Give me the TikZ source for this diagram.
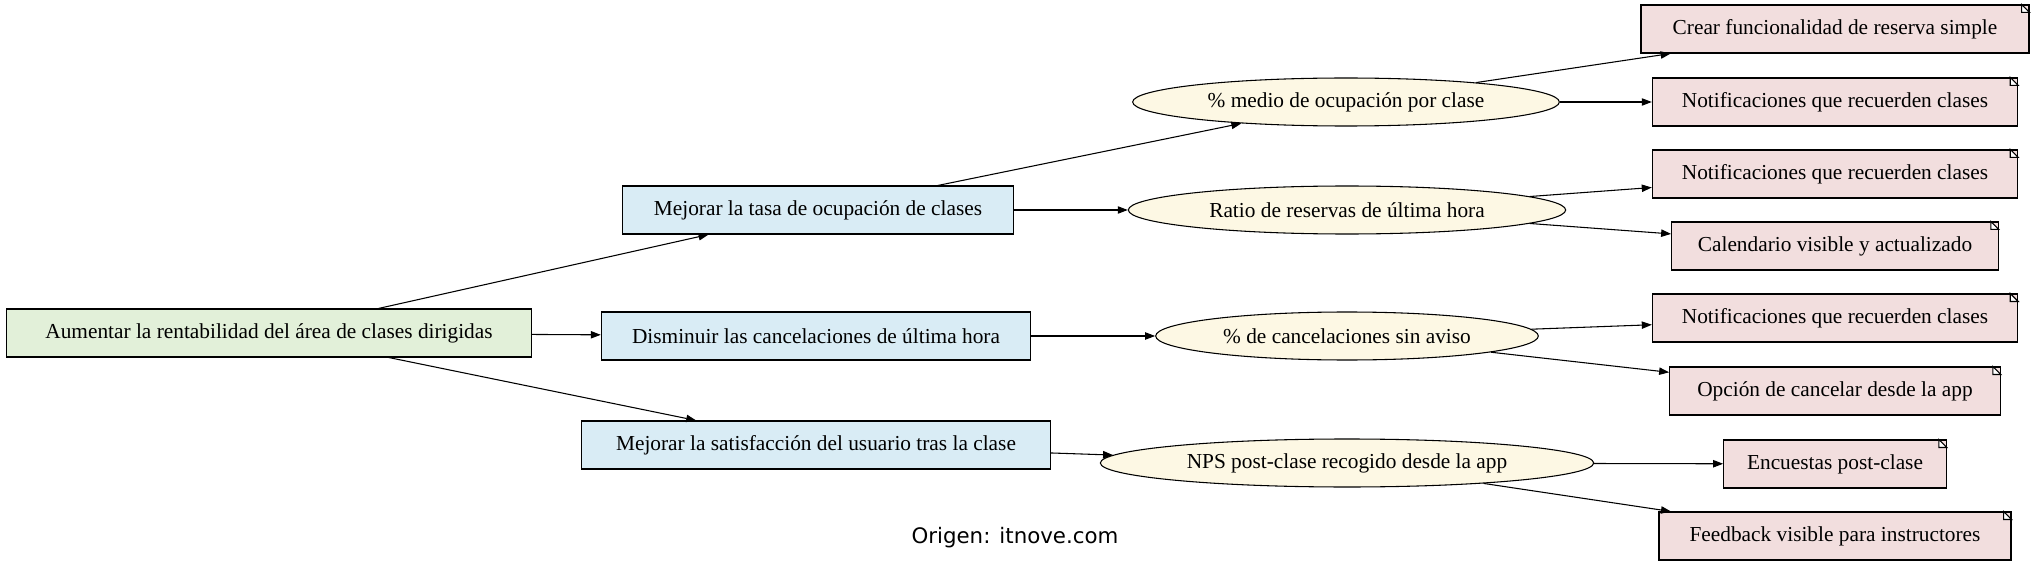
\documentclass[tikz,border=0pt]{standalone}
\usepackage{fontspec}
\setmainfont{Liberation Serif}
\newfontfamily\captionfont{DejaVu Sans}
\usetikzlibrary{shapes.geometric, arrows.meta}
\definecolor{goalgreen}{HTML}{E2F0D9}
\definecolor{objblue}{HTML}{D9ECF5}
\definecolor{kpicream}{HTML}{FDF8E4}
\definecolor{actionpink}{HTML}{F2DEDE}
\tikzset{
    base/.style={draw, thick, inner sep=0pt, minimum height=36pt,
        font=\fontsize{16}{19}\selectfont},
    goal/.style={base, rectangle, fill=goalgreen},
    objective/.style={base, rectangle, fill=objblue},
    kpi/.style={base, ellipse, fill=kpicream},
    action/.style={base, rectangle, fill=actionpink},
    link/.style={thick, -{Triangle[length=7.5pt, width=5.5pt]}},
}
\begin{document}
\begin{tikzpicture}[x=0.75pt, y=-0.75pt]
    \useasboundingbox (0, 0) rectangle (2032, 563);
    % goal and objectives
    \node[goal, minimum width=394pt] (root) at (269, 333) {Aumentar la rentabilidad del área de clases dirigidas};
    \node[objective, minimum width=293pt] (ocup) at (818, 210) {Mejorar la tasa de ocupación de clases};
    \node[objective, minimum width=322pt] (canc) at (816, 336) {Disminuir las cancelaciones de última hora};
    \node[objective, minimum width=352pt] (sat) at (816, 445) {Mejorar la satisfacción del usuario tras la clase};
    % indicators
    \node[kpi, minimum width=320pt] (kocup) at (1346, 102) {\% medio de ocupación por clase};
    \node[kpi, minimum width=328pt] (kratio) at (1347, 210) {Ratio de reservas de última hora};
    \node[kpi, minimum width=287pt] (kcanc) at (1347, 336) {\% de cancelaciones sin aviso};
    \node[kpi, minimum width=370pt] (knps) at (1347, 463) {NPS post-clase recogido desde la app};
    % actions
    \node[action, minimum width=291pt] (a1) at (1835, 29) {Crear funcionalidad de reserva simple};
    \node[action, minimum width=274pt] (a2) at (1835, 102) {Notificaciones que recuerden clases};
    \node[action, minimum width=274pt] (a3) at (1835, 174) {Notificaciones que recuerden clases};
    \node[action, minimum width=245pt] (a4) at (1835, 246) {Calendario visible y actualizado};
    \node[action, minimum width=274pt] (a5) at (1835, 318) {Notificaciones que recuerden clases};
    \node[action, minimum width=248pt] (a6) at (1835, 391) {Opción de cancelar desde la app};
    \node[action, minimum width=167pt] (a7) at (1835, 464) {Encuestas post-clase};
    \node[action, minimum width=264pt] (a8) at (1835, 536) {Feedback visible para instructores};
    \foreach \n in {a1, a2, a3, a4, a5, a6, a7, a8}
        \draw[thick, fill=white] ([xshift=-6pt]\n.north east) -- ([xshift=-6pt, yshift=-6pt]\n.north east)
            -- ([yshift=-6pt]\n.north east) -- cycle;
    % links
    \foreach \a/\b in {root/ocup, root/canc, root/sat, ocup/kocup, ocup/kratio, canc/kcanc, sat/knps,
        kocup/a1, kocup/a2, kratio/a3, kratio/a4, kcanc/a5, kcanc/a6, knps/a7, knps/a8}
        \draw[link] (\a) -- (\b);
    \node[font=\captionfont\fontsize{16}{19}\selectfont] (origin) at (1015, 538) {Origen: itnove.com};
\end{tikzpicture}
\end{document}
